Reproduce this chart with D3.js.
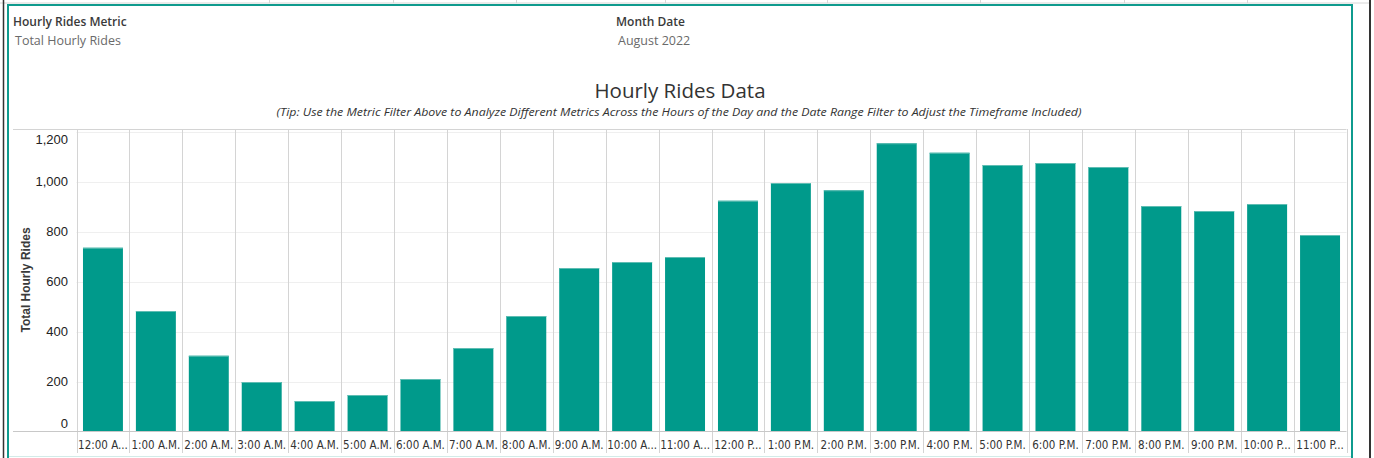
<!DOCTYPE html>
<html lang="en">
<head>
    <meta charset="UTF-8">
    <title>Hourly Rides Data</title>
    <script src="https://cdn.jsdelivr.net/npm/d3@7"></script>
    <style>
        body{ margin:0; background:#fff; }
        svg{ display:block; }
    </style>
</head>
<body>
</body>
<script type="text/javascript">

    // hour of day categories, as shown on the x axis (truncated like the original)
    let hourLabels = ["12:00 A...","1:00 A.M.","2:00 A.M.","3:00 A.M.","4:00 A.M.","5:00 A.M.",
                      "6:00 A.M.","7:00 A.M.","8:00 A.M.","9:00 A.M.","10:00 A...","11:00 A...",
                      "12:00 P...","1:00 P.M.","2:00 P.M.","3:00 P.M.","4:00 P.M.","5:00 P.M.",
                      "6:00 P.M.","7:00 P.M.","8:00 P.M.","9:00 P.M.","10:00 P...","11:00 P..."];
    // total hourly rides, august 2022
    let totalRides = [735, 482, 303, 198, 122, 146, 210, 334, 462, 654, 678, 698,
                      923, 994, 965, 1153, 1115, 1066, 1074, 1058, 902, 882, 910, 786];
    let yTicks = [0, 200, 400, 600, 800, 1000, 1200];

    let width = 1374;
    let height = 458;
    let teal = "#009a8b";
    let font = "'Open Sans', sans-serif";
    let axisFont = "'Liberation Sans', Arial, sans-serif";

    let svg = d3.select("body")
        .append("svg")
        .attr("width", width)
        .attr("height", height);

    // dashboard chrome: top strip, dark side rules, teal frame
    svg.append("line").attr("x1", 0).attr("x2", 1369).attr("y1", 3).attr("y2", 3)
        .attr("stroke", "#d6d6d6").attr("stroke-width", 1);
    [269, 393, 516, 665, 827, 980, 1124, 1247].forEach(x => {
        svg.append("line").attr("x1", x + 0.5).attr("x2", x + 0.5).attr("y1", 0).attr("y2", 3)
            .attr("stroke", "#d6d6d6");
    });
    svg.append("line").attr("x1", 3.5).attr("x2", 3.5).attr("y1", 0).attr("y2", height)
        .attr("stroke", "#333").attr("stroke-width", 1.5);
    svg.append("line").attr("x1", 1370).attr("x2", 1370).attr("y1", 0).attr("y2", height)
        .attr("stroke", "#333").attr("stroke-width", 2);
    svg.append("line").attr("x1", 9).attr("x2", 1351).attr("y1", 456.5).attr("y2", 456.5)
        .attr("stroke", "#d3ebe8");
    svg.append("path")
        .attr("d", `M8,${height} L8,5 L1352,5 L1352,${height}`)
        .attr("fill", "none")
        .attr("stroke", "#0f9b8e")
        .attr("stroke-width", 2);

    // filter headers
    let header = (x, y, title, value) => {
        svg.append("text").attr("x", x).attr("y", y)
            .attr("font-family", font).attr("font-size", 12).attr("font-weight", 600)
            .attr("fill", "#3a3a3a").text(title);
        svg.append("text").attr("x", x + 2).attr("y", y + 19)
            .attr("font-family", font).attr("font-size", 12.5)
            .attr("fill", "#6a6a6a").text(value);
    };
    header(13, 26, "Hourly Rides Metric", "Total Hourly Rides");
    header(616, 26, "Month Date", "August 2022");

    // titles
    svg.append("text").attr("x", 680).attr("y", 98).attr("text-anchor", "middle")
        .attr("font-family", font).attr("font-size", 20.5).attr("fill", "#333")
        .text("Hourly Rides Data");
    svg.append("text").attr("x", 679).attr("y", 116).attr("text-anchor", "middle")
        .attr("font-family", font).attr("font-size", 11.5).attr("font-style", "italic")
        .attr("fill", "#333")
        .attr("textLength", 805).attr("lengthAdjust", "spacingAndGlyphs")
        .text("(Tip: Use the Metric Filter Above to Analyze Different Metrics Across the Hours of the Day and the Date Range Filter to Adjust the Timeframe Included)");

    // scales
    let x = d3.scaleBand()
        .domain(hourLabels)
        .range([76.5, 1346.5])
        .paddingInner(0.245)
        .paddingOuter(0.1225);
    let y = d3.scaleLinear()
        .domain([0, 1210])
        .range([431.5, 129]);

    // horizontal gridlines
    svg.append("g")
        .selectAll("line")
        .data(yTicks.filter(d => d > 0))
        .join("line")
        .attr("x1", 76.5).attr("x2", 1346.5)
        .attr("y1", d => Math.round(y(d)) + 0.5).attr("y2", d => Math.round(y(d)) + 0.5)
        .attr("stroke", "#efefef");

    // column dividers
    let edges = hourLabels.map(h => x(h) - x.step() * x.paddingOuter());
    edges.push(1346.5);
    svg.append("g")
        .selectAll("line")
        .data(edges)
        .join("line")
        .attr("x1", d => Math.round(d) + 0.5).attr("x2", d => Math.round(d) + 0.5)
        .attr("y1", 129).attr("y2", 453)
        .attr("stroke", "#d4d4d4");

    // pane top border
    svg.append("line").attr("x1", 13).attr("x2", 1346.5).attr("y1", 129.5).attr("y2", 129.5)
        .attr("stroke", "#d4d4d4");

    // bars
    svg.append("g")
        .selectAll("rect")
        .data(totalRides)
        .join("rect")
        .attr("x", (d, i) => x(hourLabels[i]))
        .attr("y", d => y(d))
        .attr("width", x.bandwidth())
        .attr("height", d => y(0) - y(d))
        .attr("fill", teal);
    svg.append("g")
        .selectAll("line")
        .data(totalRides)
        .join("line")
        .attr("x1", (d, i) => x(hourLabels[i]))
        .attr("x2", (d, i) => x(hourLabels[i]) + x.bandwidth())
        .attr("y1", d => y(d) + 0.5).attr("y2", d => y(d) + 0.5)
        .attr("stroke", "#5fbdb3");

    // zero line
    svg.append("line").attr("x1", 13).attr("x2", 1346.5).attr("y1", 431.5).attr("y2", 431.5)
        .attr("stroke", "#c8c8c8");

    // y axis
    let yAxis = d3.axisLeft(y)
        .tickValues(yTicks)
        .tickFormat(d3.format(","))
        .tickSize(0)
        .tickPadding(0);
    let yAxisGroup = svg.append("g")
        .attr("transform", "translate(68,0)");
    yAxis(yAxisGroup);
    yAxisGroup.select(".domain").remove();
    yAxisGroup.selectAll("text")
        .attr("font-family", axisFont)
        .attr("font-size", 13)
        .attr("fill", "#222")
        .attr("dy", d => d == 0 ? "-0.3em" : d == 1200 ? "0.9em" : "0.32em");

    svg.append("text")
        .attr("transform", "translate(30,280) rotate(-90)")
        .attr("text-anchor", "middle")
        .attr("font-family", axisFont).attr("font-size", 12).attr("font-weight", "bold")
        .attr("fill", "#3a3a3a")
        .text("Total Hourly Rides");

    // x axis labels
    let xAxis = d3.axisBottom(x).tickSize(0).tickPadding(0);
    let xAxisGroup = svg.append("g")
        .attr("transform", "translate(0,432)");
    xAxis(xAxisGroup);
    xAxisGroup.select(".domain").remove();
    xAxisGroup.selectAll("text")
        .attr("font-family", "'Liberation Sans Narrow', 'DejaVu Sans Condensed', sans-serif")
        .attr("font-size", 11.5)
        .attr("fill", "#333")
        .attr("dy", "1.45em");

</script>
</html>
